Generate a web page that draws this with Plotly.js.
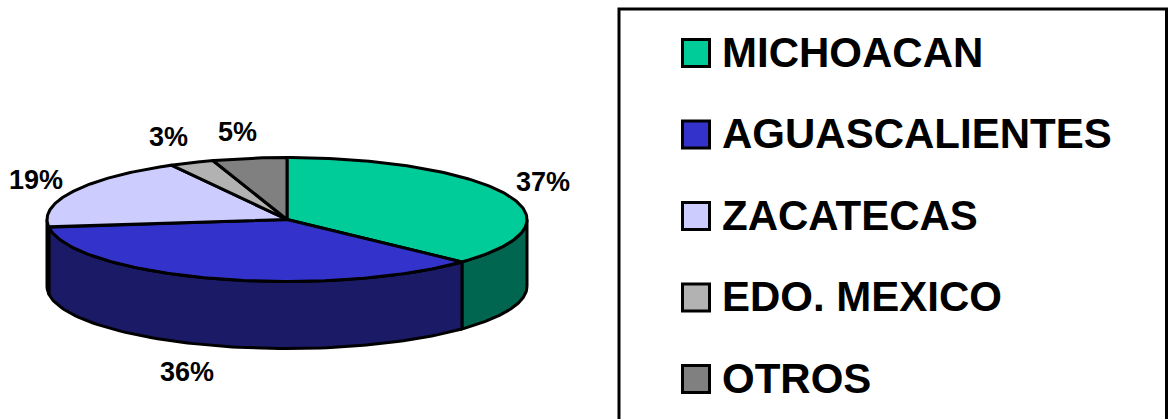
<!DOCTYPE html>
<html><head><meta charset="utf-8">
<script src="https://cdn.plot.ly/plotly-3.0.1.min.js"></script>
<style>html,body{margin:0;padding:0;background:#fff}#c{width:1168px;height:419px}</style>
</head><body><div id="c"></div>
<script>
const categories = ["MICHOACAN","AGUASCALIENTES","ZACATECAS","EDO. MEXICO","OTROS"];
const values = [37,36,19,3,5];
const topColors = ["#00CC99","#3333CC","#CCCCFF","#B2B2B2","#808080"];
const sideColors = ["#006650","#1A1A66","#666680","#595959","#404040"];
const pctLabels = ["37%","36%","19%","3%","5%"];
const labelX = [543,187,36,168,237];
const labelY = [182,372,180,137,132];

const cx=287, cy=219.5, rx=240, ry=62, depth=67;
const total = values.reduce((a,b)=>a+b,0);
const px = t => cx + rx*Math.sin(t);
const py = t => cy - ry*Math.cos(t);
const arc = (a,b,n) => { const o=[]; for(let i=0;i<=n;i++) o.push(a+(b-a)*i/n); return o; };

const traces=[];
let cum=0;
const wedges=values.map(v=>{const a=cum/total*2*Math.PI; cum+=v; return [a,cum/total*2*Math.PI];});

// side walls (only the front half of the ellipse is visible)
wedges.forEach(([a,b],i)=>{
  const s=Math.max(a,Math.PI/2), e=Math.min(b,Math.PI*1.5);
  if(e<=s) return;
  const ts=arc(s,e,80);
  const x=ts.map(px).concat(ts.slice().reverse().map(px));
  const y=ts.map(t=>py(t)+depth).concat(ts.slice().reverse().map(py));
  x.push(x[0]); y.push(y[0]);
  traces.push({type:"scatter",mode:"lines",x,y,fill:"toself",fillcolor:sideColors[i],
    line:{color:"#000",width:3,shape:"linear"},name:categories[i],showlegend:false,hoverinfo:"name"});
});
// top wedges
wedges.forEach(([a,b],i)=>{
  const ts=arc(a,b,120);
  const x=[cx].concat(ts.map(px),[cx]);
  const y=[cy].concat(ts.map(py),[cy]);
  traces.push({type:"scatter",mode:"lines",x,y,fill:"toself",fillcolor:topColors[i],
    line:{color:"#000",width:3},name:categories[i],showlegend:false,hoverinfo:"name"});
});
// legend swatches
const legendStep=81.5, legendTop=53, swatchX=696, legendTextX=719.5;
traces.push({type:"scatter",mode:"markers",
  x:categories.map(()=>swatchX),
  y:categories.map((_,i)=>legendTop+i*legendStep),
  marker:{symbol:"square",size:27,color:topColors,line:{color:"#000",width:3}},
  showlegend:false,hoverinfo:"skip"});

const font="Liberation Sans, Arial, sans-serif";
const annotations=[];
pctLabels.forEach((t,i)=>annotations.push({x:labelX[i],y:labelY[i],xref:"x",yref:"y",text:"<b>"+t+"</b>",
  showarrow:false,xanchor:"center",yanchor:"middle",font:{family:font,size:27,color:"#000"}}));
categories.forEach((t,i)=>annotations.push({x:legendTextX,y:legendTop+i*legendStep-1,xref:"x",yref:"y",text:"<b>"+t+"</b>",
  showarrow:false,xanchor:"left",yanchor:"middle",font:{family:font,size:42,color:"#000"}}));

const layout={width:1168,height:419,margin:{l:0,r:0,t:0,b:0,pad:0},
  paper_bgcolor:"#fff",plot_bgcolor:"#fff",showlegend:false,
  xaxis:{range:[0,1168],visible:false,fixedrange:true},
  yaxis:{range:[419,0],visible:false,fixedrange:true},
  shapes:[{type:"rect",xref:"x",yref:"y",x0:619,y0:9,x1:1166.5,y1:425,line:{color:"#000",width:3},fillcolor:"rgba(0,0,0,0)",layer:"below"}],
  annotations};
Plotly.newPlot("c",traces,layout,{displayModeBar:false,staticPlot:true});
</script></body></html>
